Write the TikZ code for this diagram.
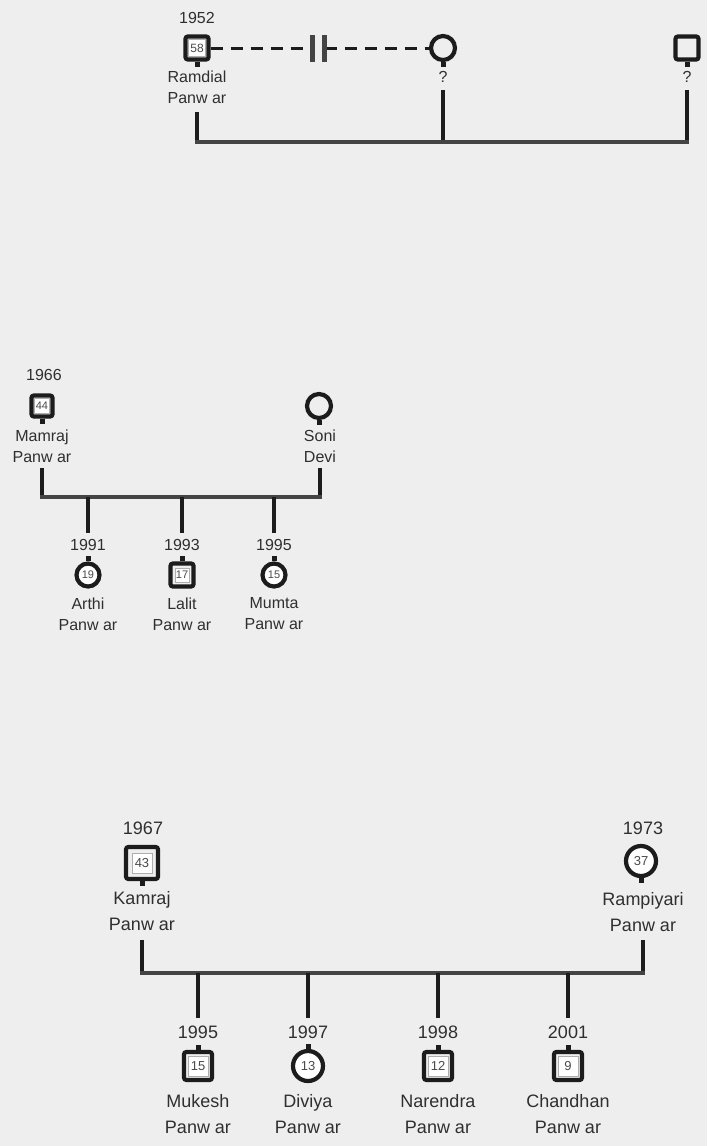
\documentclass[tikz,border=0pt]{standalone}
\usepackage{fontspec}
\setmainfont{Liberation Sans}
\usetikzlibrary{positioning}
\definecolor{pedInk}{HTML}{1C1C1C}
\definecolor{pedText}{HTML}{2F2F2F}
\definecolor{pedBar}{HTML}{444444}
\definecolor{pedAge}{HTML}{4A4A4A}
\definecolor{pedPaper}{HTML}{EEEEEE}
\tikzset{
  every picture/.style={text=pedText},
  ped male/.style={draw=pedInk, line width=2.1pt, rounded corners=1.2pt,
    inner sep=0pt, minimum size=#1, fill=pedPaper},
  ped female/.style={circle, draw=pedInk, line width=2.1pt,
    inner sep=0pt, minimum size=#1, fill=white},
  age box/.style={draw=pedAge!45, line width=0.4pt, fill=white,
    inner sep=0pt, minimum size=#1, text=pedAge},
  age txt/.style={inner sep=0pt, text=pedAge},
  ped stub/.style={draw=pedInk, line width=2.5pt},
  ped drop/.style={draw=pedInk, line width=2.1pt},
  ped sibs/.style={draw=pedBar, line width=1.6pt, line cap=rect},
  ped sep/.style={draw=pedInk, line width=1.5pt, dash pattern=on 6pt off 4pt},
  ped break/.style={draw=pedBar, line width=2.2pt},
  small txt/.style={font=\fontsize{8}{10.5}\selectfont, align=center, inner sep=0pt},
  big txt/.style={font=\fontsize{9}{13}\selectfont, align=center, inner sep=0pt}
}

\begin{document}
\begin{tikzpicture}[x=0.5pt,y=-0.5pt]
  \fill[pedPaper] (0,0) rectangle (707,1146);

  % first family: Ramdial, separated partner, unknown father
  \node[ped male=11.5pt] (ramdial) at (197,48) {};
  \node[age box=8.5pt, font=\fontsize{6}{6}\selectfont] (ramdialAge) at (ramdial) {58};
  \node[small txt] (ramdialYr) at (197,18) {1952};
  \node[small txt] (ramdialNm) at (197,87.5) {Ramdial\\Panw ar};
  \node[ped female=12pt, fill=pedPaper] (topMum) at (443,48) {};
  \node[small txt] (topMumNm) at (443,77) {?};
  \node[ped male=11.5pt] (topDad) at (687,48) {};
  \node[small txt] (topDadNm) at (687,77) {?};
  \draw[ped stub] (ramdial.south) -- ++(0,5);
  \draw[ped stub] (topMum.south) -- ++(0,5);
  \draw[ped stub] (topDad.south) -- ++(0,5);

  \coordinate (brkA) at (312.5,48);
  \coordinate (brkB) at (324.5,48);
  \draw[ped sep] (ramdial.east) -- (brkA);
  \draw[ped sep] (brkB) -- (topMum.west);
  \draw[ped break] (brkA) ++(0,-13) -- ++(0,27);
  \draw[ped break] (brkB) ++(0,-13) -- ++(0,27);

  \coordinate (ramdialUp) at (197,112); \coordinate (ramdialJn) at (197,142);
  \coordinate (topMumUp) at (443,90);   \coordinate (topMumJn) at (443,142);
  \coordinate (topDadUp) at (687,90);   \coordinate (topDadJn) at (687,142);
  \draw[ped drop] (ramdialUp) -- (ramdialJn);
  \draw[ped drop] (topMumUp) -- (topMumJn);
  \draw[ped drop] (topDadUp) -- (topDadJn);
  \draw[ped sibs] (ramdialJn) -- (topDadJn);

  % second family: Mamraj and Soni
  \node[ped male=10.5pt] (mamraj) at (42,406) {};
  \node[age box=7.5pt, font=\fontsize{5.5}{5.5}\selectfont] (mamrajAge) at (mamraj) {44};
  \node[small txt] (mamrajYr) at (44,375) {1966};
  \node[small txt] (mamrajNm) at (42,446) {Mamraj\\Panw ar};
  \node[ped female=12pt, fill=pedPaper] (soni) at (319,406) {};
  \node[small txt] (soniNm) at (320,446) {Soni\\Devi};
  \draw[ped stub] (mamraj.south) -- ++(0,5);
  \draw[ped stub] (soni.south) -- ++(0,5);

  \coordinate (mamrajUp) at (42,468);  \coordinate (mamrajJn) at (42,497);
  \coordinate (soniUp) at (320,468);   \coordinate (soniJn) at (320,497);
  \draw[ped drop] (mamrajUp) -- (mamrajJn);
  \draw[ped drop] (soniUp) -- (soniJn);
  \draw[ped sibs] (mamrajJn) -- (soniJn);

  \node[ped female=11.5pt] (arthi) at (88,575) {};
  \node[age txt, font=\fontsize{5.5}{5.5}\selectfont] (arthiAge) at (arthi) {19};
  \node[small txt] (arthiYr) at (88,545) {1991};
  \node[small txt] (arthiNm) at (88,614) {Arthi\\Panw ar};
  \node[ped male=11.5pt] (lalit) at (182,575) {};
  \node[age box=7pt, font=\fontsize{5.5}{5.5}\selectfont] (lalitAge) at (lalit) {17};
  \node[small txt] (lalitYr) at (182,545) {1993};
  \node[small txt] (lalitNm) at (182,614) {Lalit\\Panw ar};
  \node[ped female=11.5pt] (mumta) at (274,575) {};
  \node[age txt, font=\fontsize{5.5}{5.5}\selectfont] (mumtaAge) at (mumta) {15};
  \node[small txt] (mumtaYr) at (274,545) {1995};
  \node[small txt] (mumtaNm) at (274,614) {Mumta\\Panw ar};
  \draw[ped stub] (arthi.north) -- ++(0,-5);
  \draw[ped stub] (lalit.north) -- ++(0,-5);
  \draw[ped stub] (mumta.north) -- ++(0,-5);

  \coordinate (arthiJn) at (88,497);  \coordinate (arthiUp) at (88,533);
  \coordinate (lalitJn) at (182,497); \coordinate (lalitUp) at (182,533);
  \coordinate (mumtaJn) at (274,497); \coordinate (mumtaUp) at (274,533);
  \draw[ped drop] (arthiJn) -- (arthiUp);
  \draw[ped drop] (lalitJn) -- (lalitUp);
  \draw[ped drop] (mumtaJn) -- (mumtaUp);

  % third family: Kamraj and Rampiyari
  \node[ped male=16pt] (kamraj) at (142,863) {};
  \node[age box=10pt, font=\fontsize{6.5}{6.5}\selectfont] (kamrajAge) at (kamraj) {43};
  \node[big txt] (kamrajYr) at (143,828) {1967};
  \node[big txt] (kamrajNm) at (142,911.5) {Kamraj\\Panw ar};
  \node[ped female=15pt] (rampiyari) at (641,861) {};
  \node[age txt, font=\fontsize{6.5}{6.5}\selectfont] (rampiyariAge) at (rampiyari) {37};
  \node[big txt] (rampiyariYr) at (643,828) {1973};
  \node[big txt] (rampiyariNm) at (643,912.5) {Rampiyari\\Panw ar};
  \draw[ped stub] (kamraj.south) -- ++(0,5);
  \draw[ped stub] (rampiyari.south) -- ++(0,5);

  \coordinate (kamrajUp) at (142,940);    \coordinate (kamrajJn) at (142,973);
  \coordinate (rampiyariUp) at (643,940); \coordinate (rampiyariJn) at (643,973);
  \draw[ped drop] (kamrajUp) -- (kamrajJn);
  \draw[ped drop] (rampiyariUp) -- (rampiyariJn);
  \draw[ped sibs] (kamrajJn) -- (rampiyariJn);

  \node[ped male=14pt] (mukesh) at (198,1066) {};
  \node[age box=10pt, font=\fontsize{6.5}{6.5}\selectfont] (mukeshAge) at (mukesh) {15};
  \node[big txt] (mukeshYr) at (198,1032) {1995};
  \node[big txt] (mukeshNm) at (198,1114.5) {Mukesh\\Panw ar};
  \node[ped female=15pt] (diviya) at (308,1066) {};
  \node[age txt, font=\fontsize{6.5}{6.5}\selectfont] (diviyaAge) at (diviya) {13};
  \node[big txt] (diviyaYr) at (308,1032) {1997};
  \node[big txt] (diviyaNm) at (308,1114.5) {Diviya\\Panw ar};
  \node[ped male=14pt] (narendra) at (438,1066) {};
  \node[age box=10pt, font=\fontsize{6.5}{6.5}\selectfont] (narendraAge) at (narendra) {12};
  \node[big txt] (narendraYr) at (438,1032) {1998};
  \node[big txt] (narendraNm) at (438,1114.5) {Narendra\\Panw ar};
  \node[ped male=14pt] (chandhan) at (568,1066) {};
  \node[age box=10pt, font=\fontsize{6.5}{6.5}\selectfont] (chandhanAge) at (chandhan) {9};
  \node[big txt] (chandhanYr) at (568,1032) {2001};
  \node[big txt] (chandhanNm) at (568,1114.5) {Chandhan\\Panw ar};
  \draw[ped stub] (mukesh.north) -- ++(0,-5);
  \draw[ped stub] (diviya.north) -- ++(0,-5);
  \draw[ped stub] (narendra.north) -- ++(0,-5);
  \draw[ped stub] (chandhan.north) -- ++(0,-5);

  \coordinate (mukeshJn) at (198,973);   \coordinate (mukeshUp) at (198,1018);
  \coordinate (diviyaJn) at (308,973);   \coordinate (diviyaUp) at (308,1018);
  \coordinate (narendraJn) at (438,973); \coordinate (narendraUp) at (438,1018);
  \coordinate (chandhanJn) at (568,973); \coordinate (chandhanUp) at (568,1018);
  \draw[ped drop] (mukeshJn) -- (mukeshUp);
  \draw[ped drop] (diviyaJn) -- (diviyaUp);
  \draw[ped drop] (narendraJn) -- (narendraUp);
  \draw[ped drop] (chandhanJn) -- (chandhanUp);
\end{tikzpicture}
\end{document}
